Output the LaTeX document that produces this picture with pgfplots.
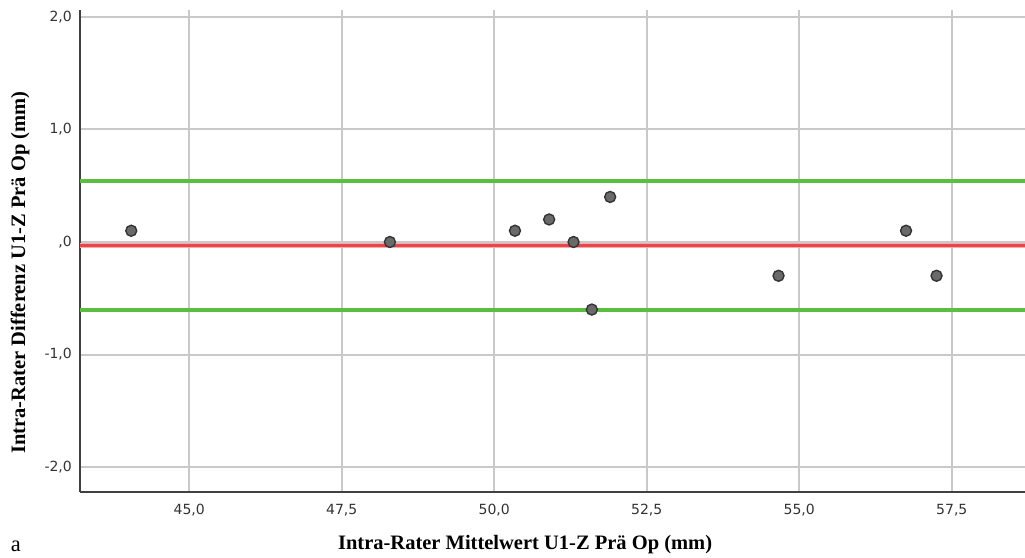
\documentclass[border=0pt]{standalone}
\usepackage{fontspec}
\setmainfont{Liberation Serif}
\newfontfamily\ticksans{DejaVu Sans}
\usepackage{pgfplots}
\pgfplotsset{compat=1.18}
\usetikzlibrary{calc}

\definecolor{loagreen}{HTML}{5CBE3E}
\definecolor{meanred}{HTML}{E8464B}
\definecolor{gridgray}{HTML}{C9C9C9}
\definecolor{ticktext}{HTML}{333333}
\definecolor{dotfill}{HTML}{6A6A6A}

\begin{document}
\begin{tikzpicture}
\begin{axis}[
    name=ax,
    scale only axis,
    width=378pt, height=192.8pt,
    xmin=43.21, xmax=58.70,
    ymin=-2.22, ymax=2.06,
    axis lines=left,
    axis line style={draw=black!75, line width=0.6pt, -},
    xtick={45,47.5,50,52.5,55,57.5},
    xticklabels={{45,0}, {47,5}, {50,0}, {52,5}, {55,0}, {57,5}},
    ytick={-2,-1,0,1,2},
    yticklabels={{-2,0}, {-1,0}, {,0}, {1,0}, {2,0}},
    tick style={draw=none},
    ticklabel style={font=\ticksans\fontsize{5.6}{6.5}\selectfont, text=ticktext},
    xticklabel style={yshift=0.8pt},
    yticklabel style={xshift=2.4pt},
    grid=major,
    grid style={gridgray, line width=0.8pt},
    xlabel={Intra-Rater Mittelwert U1-Z Prä Op (mm)},
    ylabel={Intra-Rater Differenz U1-Z Prä Op (mm)},
    label style={font=\bfseries\fontsize{8.2}{9.5}\selectfont},
    xlabel style={at={(axis description cs:0.471,-0.11)}, anchor=center},
    ylabel style={at={(axis description cs:-0.0635,0.455)}, anchor=center},
    clip=false,
]
% limits of agreement and mean difference
\addplot[loagreen, line width=1.6pt] coordinates {(43.21,0.540) (58.70,0.540)};
\addplot[loagreen, line width=1.6pt] coordinates {(43.21,-0.600) (58.70,-0.600)};
\addplot[meanred!45, line width=2.2pt] coordinates {(43.21,-0.03) (58.70,-0.03)};
\addplot[meanred, line width=1.1pt] coordinates {(43.21,-0.03) (58.70,-0.03)};
% measurements
\addplot[only marks, mark=*, mark size=2.2pt,
    mark options={fill=dotfill, draw=black!80, line width=0.55pt}]
    coordinates {
    (44.05,0.1) (48.29,0.0) (50.34,0.1) (50.90,0.2) (51.30,0.0)
    (51.60,-0.6) (51.90,0.4) (54.66,-0.3) (56.75,0.1) (57.25,-0.3)
    };
\node[font=\fontsize{9}{10}\selectfont, anchor=center]
    at (axis description cs:-0.068,-0.112) {a};
\end{axis}
\pgfresetboundingbox
\path ($(ax.south west)+(-32pt,-26pt)$) rectangle ($(ax.south west)+(378pt,196.8pt)$);
\end{tikzpicture}
\end{document}
